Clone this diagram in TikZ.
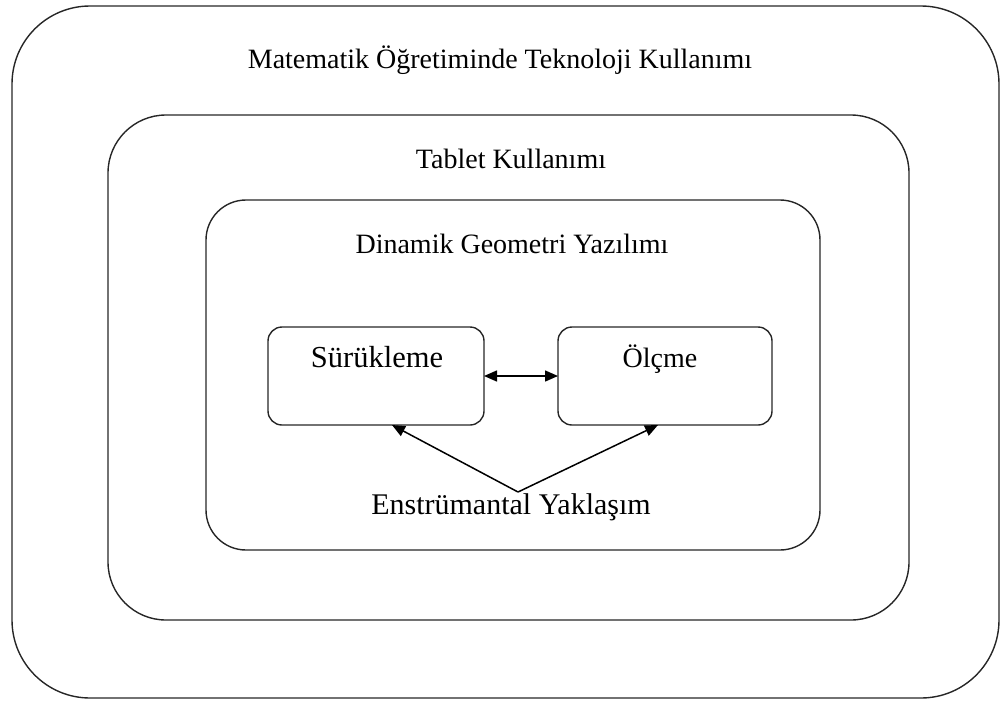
\documentclass[tikz,border=0pt]{standalone}
\usepackage{fontspec}
\setmainfont{Liberation Serif}
\usetikzlibrary{arrows.meta}
\begin{document}
\begin{tikzpicture}[x=1pt,y=-1pt,
  frame/.style={draw=black!85,line width=1.4pt,inner sep=0pt,outer sep=0pt},
  lbl/.style={anchor=base,inner sep=0pt,font=\fontsize{28}{32}\selectfont},
  arr/.style={line width=1.5pt,-{Triangle[length=13pt,width=11pt]}},
  darr/.style={line width=1.5pt,{Triangle[length=13pt,width=11pt]}-{Triangle[length=13pt,width=11pt]}}]
\useasboundingbox (0,0) rectangle (1001,702);
\node[frame,rounded corners=78pt,minimum width=987pt,minimum height=692pt] (outer) at (505.5,352) {};
\node[frame,rounded corners=58pt,minimum width=801pt,minimum height=505pt] (tablet) at (508.5,367.5) {};
\node[frame,rounded corners=40pt,minimum width=614pt,minimum height=350pt] (dgy) at (513,375) {};
\node[frame,rounded corners=14pt,minimum width=216pt,minimum height=98pt] (sur) at (376,376) {};
\node[frame,rounded corners=14pt,minimum width=214pt,minimum height=98pt] (olc) at (665,376) {};
\node[lbl] (t1) at (500,68) {Matematik Öğretiminde Teknoloji Kullanımı};
\node[lbl] (t2) at (511,168) {Tablet Kullanımı};
\node[lbl] (t3) at (512,253) {Dinamik Geometri Yazılımı};
\node[lbl,font=\fontsize{30.5}{34}\selectfont] (t4) at (377,367) {Sürükleme};
\node[lbl] (t5) at (660,367) {Ölçme};
\node[lbl,font=\fontsize{30}{34}\selectfont] (t6) at (511,514) {Enstrümantal Yaklaşım};
\coordinate (apex) at (518,492);
\coordinate (sl) at (392,425);
\coordinate (or) at (658,425);
\draw[darr] (sur.east) -- (olc.west);
\draw[arr] (apex) -- (sl);
\draw[arr] (apex) -- (or);
\end{tikzpicture}
\end{document}
